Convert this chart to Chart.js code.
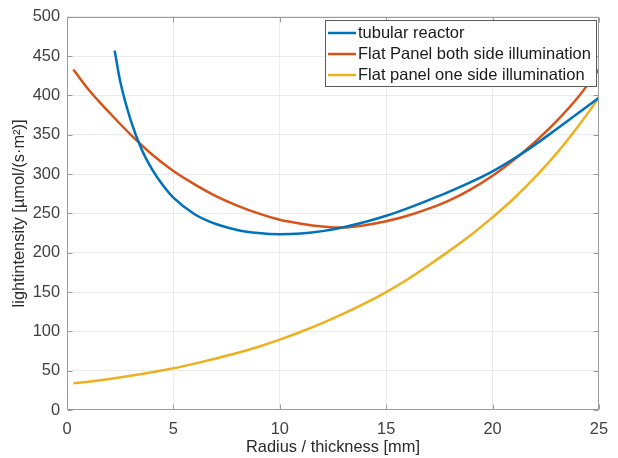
<!DOCTYPE html>
<html><head><meta charset="utf-8">
<script src="https://cdn.jsdelivr.net/npm/chart.js@4"></script>
<style>html,body{margin:0;padding:0;background:#fff}</style>
</head><body>
<canvas id="c" width="618" height="458"></canvas>
<script>
// ---- data ----
const tubularX = [2.24, 2.5, 3, 3.5, 4, 4.5, 5, 6, 7, 8, 9, 10, 11, 12, 13, 14, 15, 16, 17, 18, 19, 20, 21, 22, 23, 24, 25];
const tubularY = [457, 418, 368, 332, 306, 286, 270, 249, 236.5, 229, 225, 223.5, 224.5, 227.5, 232.5, 239, 247, 256.5, 267, 278, 290, 303.5, 319.5, 337.5, 357, 377, 397];

const flatBothX = [0.3, 1, 2, 3, 4, 5, 6, 7, 8, 9, 10, 11, 12, 13, 14, 15, 16, 17, 18, 19, 20, 21, 22, 23, 24, 25];
const flatBothY = [433, 408, 378, 350, 325, 304, 287, 272, 260, 250, 242, 237, 233.5, 232, 235, 240, 247, 256, 267, 281, 298, 318, 341, 367, 397, 433];

const flatOneX = [0.3, 1, 2, 3, 4, 5, 6, 7, 8, 9, 10, 11, 12, 13, 14, 15, 16, 17, 18, 19, 20, 21, 22, 23, 24, 25];
const flatOneY = [34, 36, 39.5, 43.5, 48, 53, 59, 65.5, 72.5, 80.5, 89.5, 99.5, 110.5, 122.5, 135.5, 150, 166, 184, 203, 223, 245, 269, 296, 326, 360, 397];

const seriesLabels = ['tubular reactor', 'Flat Panel both side illumination', 'Flat panel one side illumination'];
const seriesColors = ['#0072BD', '#D95319', '#EDB120'];

const xTicks = [0, 5, 10, 15, 20, 25];
const yTicks = [0, 50, 100, 150, 200, 250, 300, 350, 400, 450, 500];

const xTitle = 'Radius / thickness [mm]';
const yTitle = 'lightintensity [µmol/(s·m²)]';

// ---- build ----
const FONT = '"Liberation Sans", Arial, Helvetica, sans-serif';
const pairs = (xs, ys) => xs.map((x, i) => ({x, y: ys[i]}));
const seriesData = [pairs(tubularX, tubularY), pairs(flatBothX, flatBothY), pairs(flatOneX, flatOneY)];

const framePlugin = {
  id: 'frame',
  afterDraw(chart) {
    const {ctx, chartArea: a, scales} = chart;
    ctx.save();
    ctx.strokeStyle = '#9a9a9a';
    ctx.lineWidth = 1;
    const L = Math.round(a.left) + 0.5, R = Math.round(a.right) - 0.5;
    const T = Math.round(a.top) + 0.5, B = Math.round(a.bottom) - 0.5;
    ctx.beginPath();
    ctx.rect(L, T, R - L, B - T);
    const tl = 5;
    xTicks.forEach(v => {
      const px = Math.round(scales.x.getPixelForValue(v)) + 0.5;
      ctx.moveTo(px, B); ctx.lineTo(px, B - tl);
      ctx.moveTo(px, T); ctx.lineTo(px, T + tl);
    });
    yTicks.forEach(v => {
      const py = Math.round(scales.y.getPixelForValue(v)) + 0.5;
      ctx.moveTo(L, py); ctx.lineTo(L + tl, py);
      ctx.moveTo(R, py); ctx.lineTo(R - tl, py);
    });
    ctx.stroke();

    // legend box
    const bx = 325.5, by = 20.5, bw = 271, bh = 66;
    ctx.fillStyle = '#fff';
    ctx.fillRect(bx, by, bw, bh);
    ctx.strokeStyle = '#5a5a5a';
    ctx.strokeRect(bx, by, bw, bh);
    ctx.font = '16.5px ' + FONT;
    ctx.textBaseline = 'middle';
    ctx.textAlign = 'left';
    chart.data.datasets.forEach((ds, i) => {
      const cy = 33 + i * 21;
      ctx.strokeStyle = ds.borderColor;
      ctx.lineWidth = 2.5;
      ctx.beginPath();
      ctx.moveTo(328, cy); ctx.lineTo(356, cy);
      ctx.stroke();
      ctx.fillStyle = '#1a1a1a';
      ctx.fillText(ds.label, 358, cy + 0.5);
    });
    ctx.restore();
  }
};

new Chart(document.getElementById('c'), {
  type: 'line',
  data: {
    datasets: seriesData.map((d, i) => ({
      label: seriesLabels[i],
      data: d,
      borderColor: seriesColors[i],
      backgroundColor: seriesColors[i],
      borderWidth: 2.5,
      pointRadius: 0,
      fill: false,
      cubicInterpolationMode: 'monotone'
    }))
  },
  options: {
    responsive: false,
    animation: false,
    devicePixelRatio: 1,
    layout: {padding: {top: 13, right: 15, left: 0, bottom: 0}},
    plugins: {legend: {display: false}, tooltip: {enabled: false}},
    scales: {
      x: {
        type: 'linear', min: 0, max: 25,
        afterBuildTicks: s => { s.ticks = xTicks.map(v => ({value: v})); },
        afterFit: s => { s.height = 48; },
        grid: {color: '#ebebeb', drawTicks: false},
        border: {display: false},
        ticks: {color: '#404040', font: {family: FONT, size: 16.4}, padding: 10, maxRotation: 0},
        title: {display: true, text: xTitle, color: '#2a2a2a', font: {family: FONT, size: 16.4}, padding: {top: 0, bottom: 1}}
      },
      y: {
        type: 'linear', min: 0, max: 500,
        afterBuildTicks: s => { s.ticks = yTicks.map(v => ({value: v})); },
        afterFit: s => { s.width = 67; },
        grid: {color: '#ebebeb', drawTicks: false},
        border: {display: false},
        ticks: {color: '#404040', font: {family: FONT, size: 16.4}, padding: 7},
        title: {display: true, text: yTitle, color: '#2a2a2a', font: {family: FONT, size: 16.4}, padding: {top: 10, bottom: 0}}
      }
    }
  },
  plugins: [framePlugin]
});
</script>
</body></html>
